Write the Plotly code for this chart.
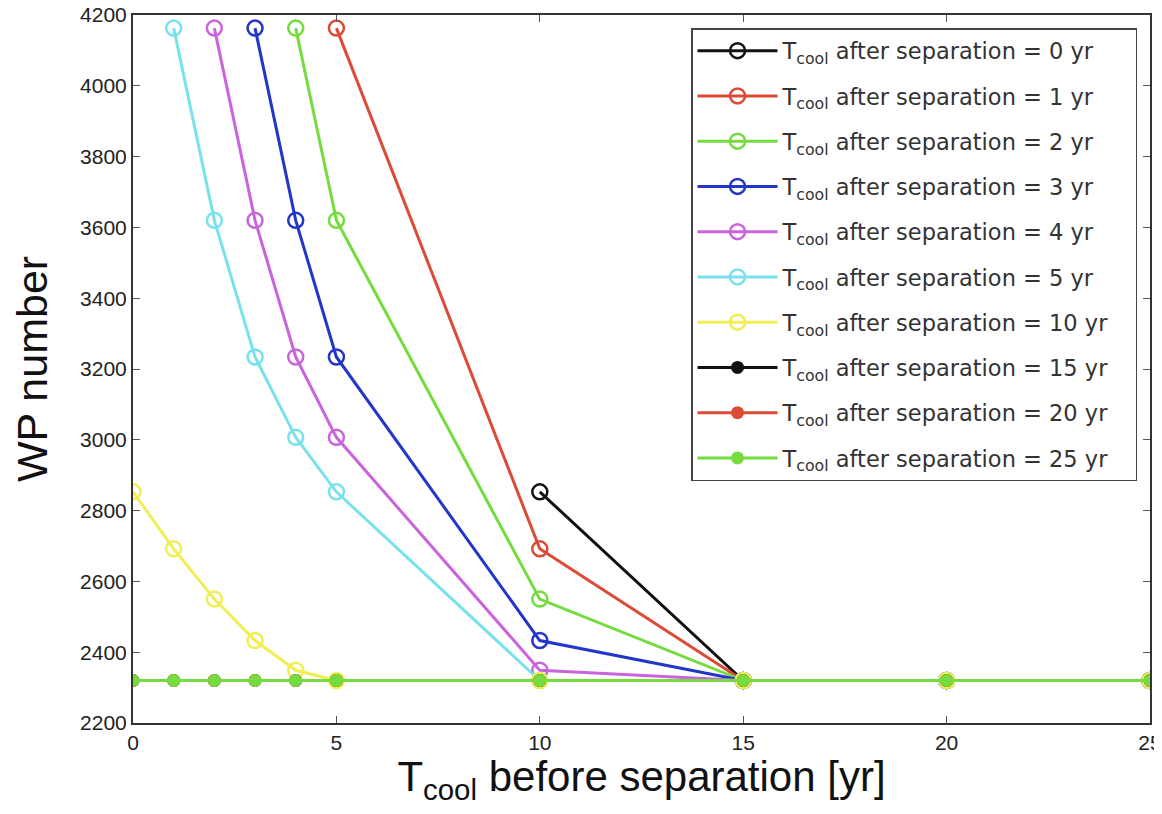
import plotly.graph_objects as go

# T_cool before separation [yr]
t_before = [0, 1, 2, 3, 4, 5, 10, 15, 20, 25]

# T_cool after separation [yr] (one series each)
after_labels = ["0", "1", "2", "3", "4", "5", "10", "15", "20", "25"]

# WP number (None = not plotted)
wp_after_0 = [None, None, None, None, None, None, 2853, 2320, 2320, 2320]
wp_after_1 = [None, None, None, None, None, 4163, 2692, 2320, 2320, 2320]
wp_after_2 = [None, None, None, None, 4163, 3620, 2550, 2320, 2320, 2320]
wp_after_3 = [None, None, None, 4163, 3620, 3234, 2433, 2320, 2320, 2320]
wp_after_4 = [None, None, 4163, 3620, 3234, 3007, 2349, 2320, 2320, 2320]
wp_after_5 = [None, 4163, 3620, 3234, 3007, 2853, 2320, 2320, 2320, 2320]
wp_after_10 = [2853, 2692, 2550, 2433, 2349, 2320, 2320, 2320, 2320, 2320]
wp_after_15 = [2320, 2320, 2320, 2320, 2320, 2320, 2320, 2320, 2320, 2320]
wp_after_20 = [2320, 2320, 2320, 2320, 2320, 2320, 2320, 2320, 2320, 2320]
wp_after_25 = [2320, 2320, 2320, 2320, 2320, 2320, 2320, 2320, 2320, 2320]

series = [wp_after_0, wp_after_1, wp_after_2, wp_after_3, wp_after_4,
          wp_after_5, wp_after_10, wp_after_15, wp_after_20, wp_after_25]

colors = ["#111111", "#dc4b36", "#74dc3e", "#2236c8", "#c964dc",
          "#78e2ec", "#f0ee52", "#111111", "#dc4b36", "#74dc3e"]
symbols = ["circle-open"] * 7 + ["circle"] * 3

fig = go.Figure()
for lab, ys, col, sym in zip(after_labels, series, colors, symbols):
    is_open = sym == "circle-open"
    fig.add_trace(go.Scatter(
        x=t_before, y=ys, mode="lines+markers",
        name=f"T<sub>cool</sub> after separation = {lab} yr&nbsp;&nbsp;&nbsp;",
        legendgroup=lab,
        line=dict(color=col, width=3),
        marker=dict(symbol=sym, size=15 if is_open else 13, color=col,
                    line=dict(color=col, width=2.5 if is_open else 0)),
        connectgaps=False,
    ))

axis_font = dict(family="Liberation Sans, Arial, sans-serif", size=21, color="#222222")
fig.update_layout(
    width=1146, height=798,
    margin=dict(l=125, r=4, t=7, b=83),
    paper_bgcolor="white", plot_bgcolor="white",
    font=dict(family="Liberation Sans, Arial, sans-serif", color="#222222"),
    showlegend=True,
    legend=dict(
        x=0.5487, y=0.9816, xanchor="left", yanchor="top",
        bgcolor="white", bordercolor="#444444", borderwidth=1.5,
        font=dict(family="DejaVu Sans, sans-serif", size=22.5, color="#333333"),
        tracegroupgap=13, itemwidth=80,
    ),
    xaxis=dict(
        range=[0, 25], tickvals=[0, 5, 10, 15, 20, 25],
        ticks="inside", ticklen=7, tickcolor="#555555", tickwidth=1,
        showline=True, linecolor="#333333", linewidth=2, mirror="ticks",
        showgrid=False, zeroline=False, tickfont=axis_font,
        ticklabeloverflow="allow", automargin=False,
        title=dict(text="T<sub>cool</sub> before separation [yr]",
                   font=dict(family="Liberation Sans, Arial, sans-serif", size=42, color="#111111"),
                   standoff=0),
    ),
    yaxis=dict(
        range=[2200, 4200], tickvals=list(range(2200, 4201, 200)),
        ticks="inside", ticklen=7, tickcolor="#555555", tickwidth=1,
        showline=True, linecolor="#333333", linewidth=2, mirror="ticks",
        showgrid=False, zeroline=False, tickfont=axis_font,
        ticklabeloverflow="allow", automargin=False,
        title=dict(text="WP number",
                   font=dict(family="Liberation Sans, Arial, sans-serif", size=43, color="#111111"),
                   standoff=26),
    ),
)

fig.write_html("out.html")
